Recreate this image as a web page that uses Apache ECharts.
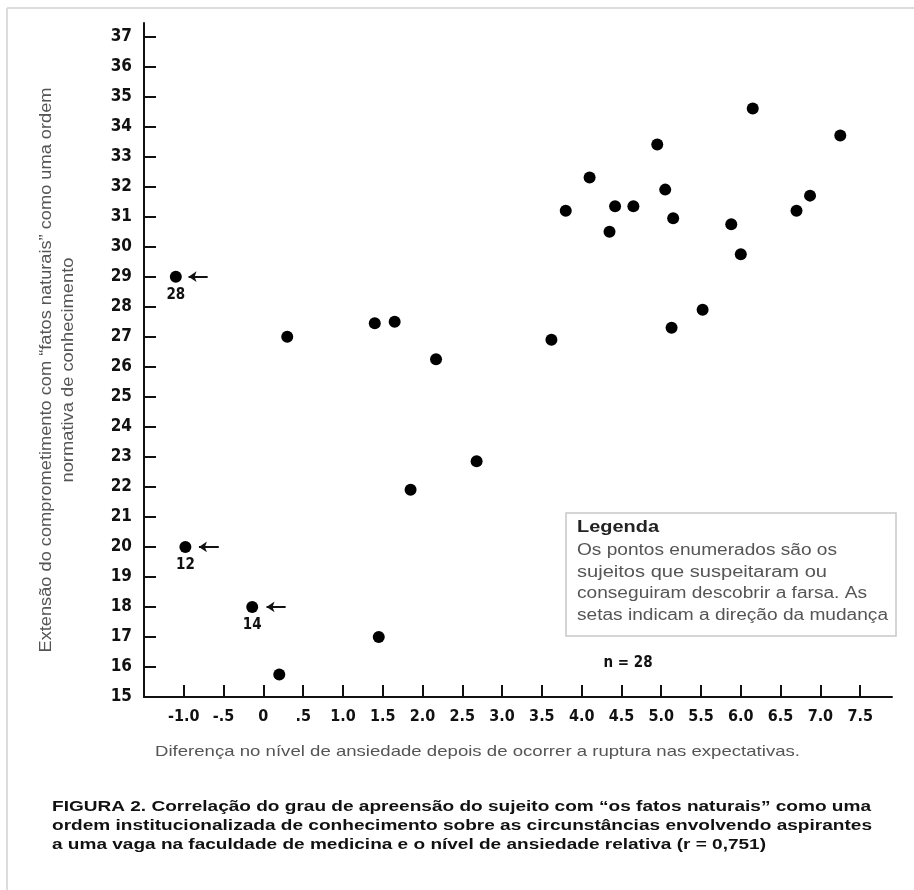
<!DOCTYPE html>
<html>
<head>
<meta charset="utf-8">
<script src="https://cdn.jsdelivr.net/npm/echarts@6/dist/echarts.min.js"></script>
<style>
html,body{margin:0;padding:0;background:#fff;}
#chart{width:914px;height:890px;}
</style>
</head>
<body>
<div id="chart"></div>
<script>
// ---- data ----
const plainX = [0.30, 1.40, 1.65, 6.15, 7.25, 4.95, 4.10, 5.05, 6.87, 3.80, 4.42, 4.65, 6.70, 5.15, 4.35, 5.88, 6.00, 5.52, 5.13, 3.62, 2.17, 1.85, 1.45, 0.20, 2.68];
const plainY = [27.0, 27.45, 27.5, 34.6, 33.7, 33.4, 32.3, 31.9, 31.7, 31.2, 31.35, 31.35, 31.2, 30.95, 30.5, 30.75, 29.75, 27.9, 27.3, 26.9, 26.25, 21.9, 17.0, 15.75, 22.85];
const labeledIds = ['28', '12', '14'];
const labeledX = [-1.10, -0.98, -0.14];
const labeledY = [29.0, 20.0, 18.0];
const arrowTailX = [-0.70, -0.56, 0.28];
const arrowHeadX = [-0.94, -0.81, 0.04];
const xTickValues = [-1.0, -0.5, 0, 0.5, 1.0, 1.5, 2.0, 2.5, 3.0, 3.5, 4.0, 4.5, 5.0, 5.5, 6.0, 6.5, 7.0, 7.5];
const xTickLabels = ['-1.0', '-.5', '0', '.5', '1.0', '1.5', '2.0', '2.5', '3.0', '3.5', '4.0', '4.5', '5.0', '5.5', '6.0', '6.5', '7.0', '7.5'];
const yTickValues = [15, 16, 17, 18, 19, 20, 21, 22, 23, 24, 25, 26, 27, 28, 29, 30, 31, 32, 33, 34, 35, 36, 37];
const sampleSize = 28;

const xTitle = 'Diferença no nível de ansiedade depois de ocorrer a ruptura nas expectativas.';
const yTitleLines = ['Extensão do comprometimento com “fatos naturais” como uma ordem', 'normativa de conhecimento'];
const legendTitle = 'Legenda';
const legendLines = ['Os pontos enumerados são os', 'sujeitos que suspeitaram ou', 'conseguiram descobrir a farsa. As', 'setas indicam a direção da mudança'];
const captionLines = [
  'FIGURA 2. Correlação do grau de apreensão do sujeito com “os fatos naturais” como uma',
  'ordem institucionalizada de conhecimento sobre as circunstâncias envolvendo aspirantes',
  'a uma vaga na faculdade de medicina e o nível de ansiedade relativa (r = 0,751)'
];

// ---- helpers ----
const mctx = document.createElement('canvas').getContext('2d');
function fitScale(text, weight, size, family, target) {
  mctx.font = weight + ' ' + size + 'px ' + family;
  const w = mctx.measureText(text).width;
  return w > 0 ? target / w : 1;
}
const ARIAL = '"Liberation Sans", Arial, sans-serif';
const COND = '"DejaVu Sans Condensed", "DejaVu Sans", sans-serif';

function stretchText(text, x, y, opts) {
  const weight = opts.weight || 'normal';
  const size = opts.size;
  const sx = opts.target ? fitScale(text, weight, size, ARIAL, opts.target) : 1;
  return {
    type: 'text', x: x, y: y, rotation: opts.rotation || 0, scaleX: sx, scaleY: 1,
    silent: true,
    style: {
      text: text, fill: opts.color || '#555',
      fontFamily: ARIAL, fontSize: size, fontWeight: weight,
      align: opts.align || 'left', verticalAlign: 'middle'
    }
  };
}

const chart = echarts.init(document.getElementById('chart'), null, {renderer: 'canvas'});

const plainData = plainX.map((x, i) => [x, plainY[i]]);
const labeledData = labeledX.map((x, i) => ({value: [x, labeledY[i]], name: labeledIds[i]}));
const arrowData = labeledY.map((y, i) => [{coord: [arrowTailX[i], y]}, {coord: [arrowHeadX[i], y]}]);

const graphics = [];
// outer frame (top and left edges)
graphics.push({type: 'line', silent: true, shape: {x1: 7, y1: 8, x2: 914, y2: 8}, style: {stroke: '#dcdcdc', lineWidth: 2}});
graphics.push({type: 'line', silent: true, shape: {x1: 7, y1: 8, x2: 7, y2: 890}, style: {stroke: '#dcdcdc', lineWidth: 2}});
// y title (rotated)
graphics.push(stretchText(yTitleLines[0], 46, 370, {size: 17, color: '#555', align: 'center', rotation: Math.PI / 2, target: 565}));
graphics.push(stretchText(yTitleLines[1], 68, 370, {size: 17, color: '#555', align: 'center', rotation: Math.PI / 2, target: 225}));
// x title
graphics.push(stretchText(xTitle, 477.5, 752, {size: 15, color: '#555', align: 'center', target: 645}));
// legend box
graphics.push({type: 'rect', silent: true, shape: {x: 566, y: 513, width: 330, height: 123}, style: {fill: '#fff', stroke: '#c8c8c8', lineWidth: 1.5}});
graphics.push(stretchText(legendTitle, 577, 528, {size: 16, weight: 'bold', color: '#222', target: 82}));
const legendTargets = [260, 250, 290, 311];
legendLines.forEach((t, i) => {
  graphics.push(stretchText(t, 577, 551 + i * 21.5, {size: 16, color: '#555', target: legendTargets[i]}));
});
// n = 28
graphics.push({type: 'text', x: 628, y: 663, silent: true,
  style: {text: 'n = ' + sampleSize, fill: '#111', fontFamily: COND, fontSize: 15, fontWeight: 'bold', align: 'center', verticalAlign: 'middle'}});
// caption
const captionTargets = [819, 820, 714];
captionLines.forEach((t, i) => {
  graphics.push(stretchText(t, 52, 807 + i * 19, {size: 15, weight: 'bold', color: '#111', target: captionTargets[i]}));
});

const option = {
  animation: false,
  backgroundColor: '#fff',
  textStyle: {fontFamily: COND},
  grid: {left: 144, right: 22, top: 23, bottom: 193, containLabel: false, outerBoundsMode: 'none'},
  xAxis: {
    type: 'value', min: -1.5, max: 7.9, interval: 0.5,
    splitLine: {show: false},
    axisLine: {show: true, onZero: false, lineStyle: {color: '#111', width: 2}},
    axisTick: {show: true, inside: true, length: 12, lineStyle: {color: '#111', width: 2}, customValues: xTickValues},
    axisLabel: {
      show: true, margin: 12, color: '#111', fontFamily: COND, fontWeight: 'bold', fontSize: 16,
      customValues: xTickValues,
      formatter: function (v) {
        const i = xTickValues.findIndex(t => Math.abs(t - v) < 1e-6);
        return i >= 0 ? xTickLabels[i] : '';
      }
    }
  },
  yAxis: {
    type: 'value', min: 15, max: 37.45, interval: 1,
    splitLine: {show: false},
    axisLine: {show: true, onZero: false, lineStyle: {color: '#111', width: 2}},
    axisTick: {show: true, inside: true, length: 12, lineStyle: {color: '#111', width: 2}, customValues: yTickValues},
    axisLabel: {
      show: true, margin: 12, color: '#111', fontFamily: COND, fontWeight: 'bold', fontSize: 17,
      customValues: yTickValues
    }
  },
  series: [
    {
      type: 'scatter', name: 'sujeitos', symbol: 'circle', symbolSize: 12,
      itemStyle: {color: '#000', opacity: 1}, silent: true,
      data: plainData
    },
    {
      type: 'scatter', name: 'enumerados', symbol: 'circle', symbolSize: 12,
      itemStyle: {color: '#000', opacity: 1}, silent: true,
      label: {show: true, position: 'bottom', distance: 5, formatter: '{b}', color: '#111',
        fontFamily: COND, fontWeight: 'bold', fontSize: 15},
      data: labeledData,
      markLine: {
        silent: true, animation: false,
        symbol: ['none', 'arrow'], symbolSize: 8,
        label: {show: false},
        lineStyle: {color: '#111', width: 2, type: 'solid', opacity: 1},
        emphasis: {disabled: true},
        data: arrowData
      }
    }
  ],
  graphic: graphics
};
chart.setOption(option);
</script>
</body>
</html>
